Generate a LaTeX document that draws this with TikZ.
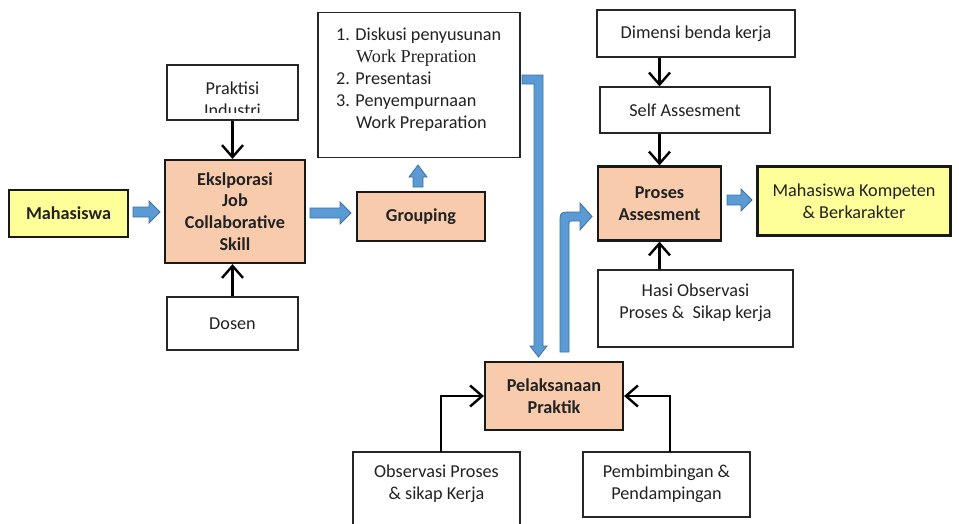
\documentclass[tikz,border=0pt]{standalone}
\usepackage{fontspec}
\setmainfont{Carlito}
\newfontfamily\serifw{Liberation Serif}
\usetikzlibrary{arrows.meta}
\definecolor{salmon}{HTML}{F8CBAD}
\definecolor{lyellow}{HTML}{FFFF99}
\definecolor{bfill}{HTML}{5B9BD5}
\definecolor{bline}{HTML}{41719C}
\definecolor{tgray}{HTML}{222222}
\newcommand\basefont{\fontsize{18.2}{21.8}\selectfont}
\tikzset{
  wbox/.style={draw=black!85, line width=1.3pt, fill=white, inner sep=0pt, align=center},
  sbox/.style={draw=black!90, line width=2.2pt, fill=salmon, inner sep=0pt, align=center, font=\basefont\bfseries},
  ybox/.style={draw=black!90, line width=2.2pt, fill=lyellow, inner sep=0pt, align=center},
  barrowshape/.style={draw=bline, fill=bfill, line width=0.8pt, line join=miter},
  karr/.style={draw=black, line width=2.4pt, -{Straight Barb[length=12pt,width=21pt,line width=2.4pt]}},
  txt/.style={inner sep=0pt, align=center}
}
\newcommand\harr[3]{\draw[barrowshape] (#1,#3-5) -- (#2-11,#3-5) -- (#2-11,#3-11) -- (#2,#3) -- (#2-11,#3+11) -- (#2-11,#3+5) -- (#1,#3+5) -- cycle;}
\begin{document}
\begin{tikzpicture}[x=1pt,y=-1pt,font=\basefont,text=tgray]
\useasboundingbox (0,0) rectangle (959,523);
\fill[white] (0,0) rectangle (959,523);
% left part
\node[ybox, font=\basefont\bfseries, minimum width=119pt, minimum height=47pt] (mhs) at (68.5,213.5) {Mahasiswa};
\node[sbox, minimum width=140pt, minimum height=103pt] (eks) at (235,211.5) {Ekslporasi\\Job\\Collaborative\\Skill};
\node[wbox, minimum width=131pt, minimum height=55pt] (prak) at (232.5,92.5) {};
\begin{scope}
\clip (167,66) rectangle (298,112);
\node[txt] (praktxt) at (232.5,99) {Praktisi\\Industri};
\end{scope}
\node[wbox, minimum width=131pt, minimum height=53pt] (dos) at (232.5,323.5) {Dosen};
\node[sbox, minimum width=128pt, minimum height=49pt] (grp) at (421,216.5) {Grouping};
\node[wbox, minimum width=202pt, minimum height=145pt] (lst) at (419,85) {};
\node[txt, anchor=north west, align=left] (lsttxt) at (336,28) {1. Diskusi penyusunan\\\hspace*{20pt}{\serifw Work Prepration}\\2. Presentasi\\3. Penyempurnaan\\\hspace*{20pt}Work Preparation};
% right part
\node[wbox, minimum width=198pt, minimum height=47pt] (dim) at (696,33.5) {Dimensi benda kerja};
\node[wbox, minimum width=170pt, minimum height=46pt] (self) at (685,110) {Self Assesment};
\node[sbox, minimum width=123pt, minimum height=74pt] (pros) at (659.5,203.5) {Proses\\Assesment};
\node[ybox, minimum width=193pt, minimum height=69pt] (mk) at (854,201) {Mahasiswa Kompeten\\\& Berkarakter};
\node[wbox, minimum width=195pt, minimum height=77pt] (hasi) at (695.5,308.5) {};
\node[txt] (hasitxt) at (695.5,303) {Hasi Observasi\\Proses \&\ \ Sikap kerja};
\node[sbox, minimum width=138pt, minimum height=68pt] (pel) at (554,396) {Pelaksanaan\\Praktik};
\node[wbox, minimum width=167pt, minimum height=80pt] (obs) at (436.5,492) {};
\node[txt] (obstxt) at (436.5,484) {Observasi Proses\\\& sikap Kerja};
\node[wbox, minimum width=167pt, minimum height=65pt] (pem) at (666.5,484.5) {};
\node[txt] (pemtxt) at (666.5,484) {Pembimbingan \&\\Pendampingan};
% black arrows
\draw[karr] (prak.south) -- (prak.south |- eks.north);
\draw[karr] (dos.north) -- (dos.north |- eks.south);
\draw[karr] (dim.south -| pros.north) -- (self.north -| pros.north);
\draw[karr] (self.south -| pros.north) -- (pros.north);
\draw[karr] (hasi.north -| pros.south) -- (pros.south);
\draw[karr] (441,452) -- (441,396) -- (pel.west);
\draw[karr] (670,452) -- (670,396) -- (pel.east);
% blue block arrows
\harr{133}{160}{212}
\harr{310}{351}{213}
\harr{727}{752}{200}
\draw[barrowshape] (413,187) -- (413,177) -- (409,177) -- (418,165) -- (427,177) -- (423,177) -- (423,187) -- cycle;
\draw[barrowshape] (522,75) -- (543,75) -- (543,346) -- (547,346) -- (538.5,357) -- (530,346) -- (534,346) -- (534,84) -- (522,84) -- cycle;
\draw[barrowshape] (560,352) -- (560,224) .. controls (560,212) .. (572,212) -- (580,212) -- (580,203) -- (592,216.5) -- (580,230) -- (580,221) -- (572,221) .. controls (569,221) .. (569,224) -- (569,352) -- cycle;
\end{tikzpicture}
\end{document}
